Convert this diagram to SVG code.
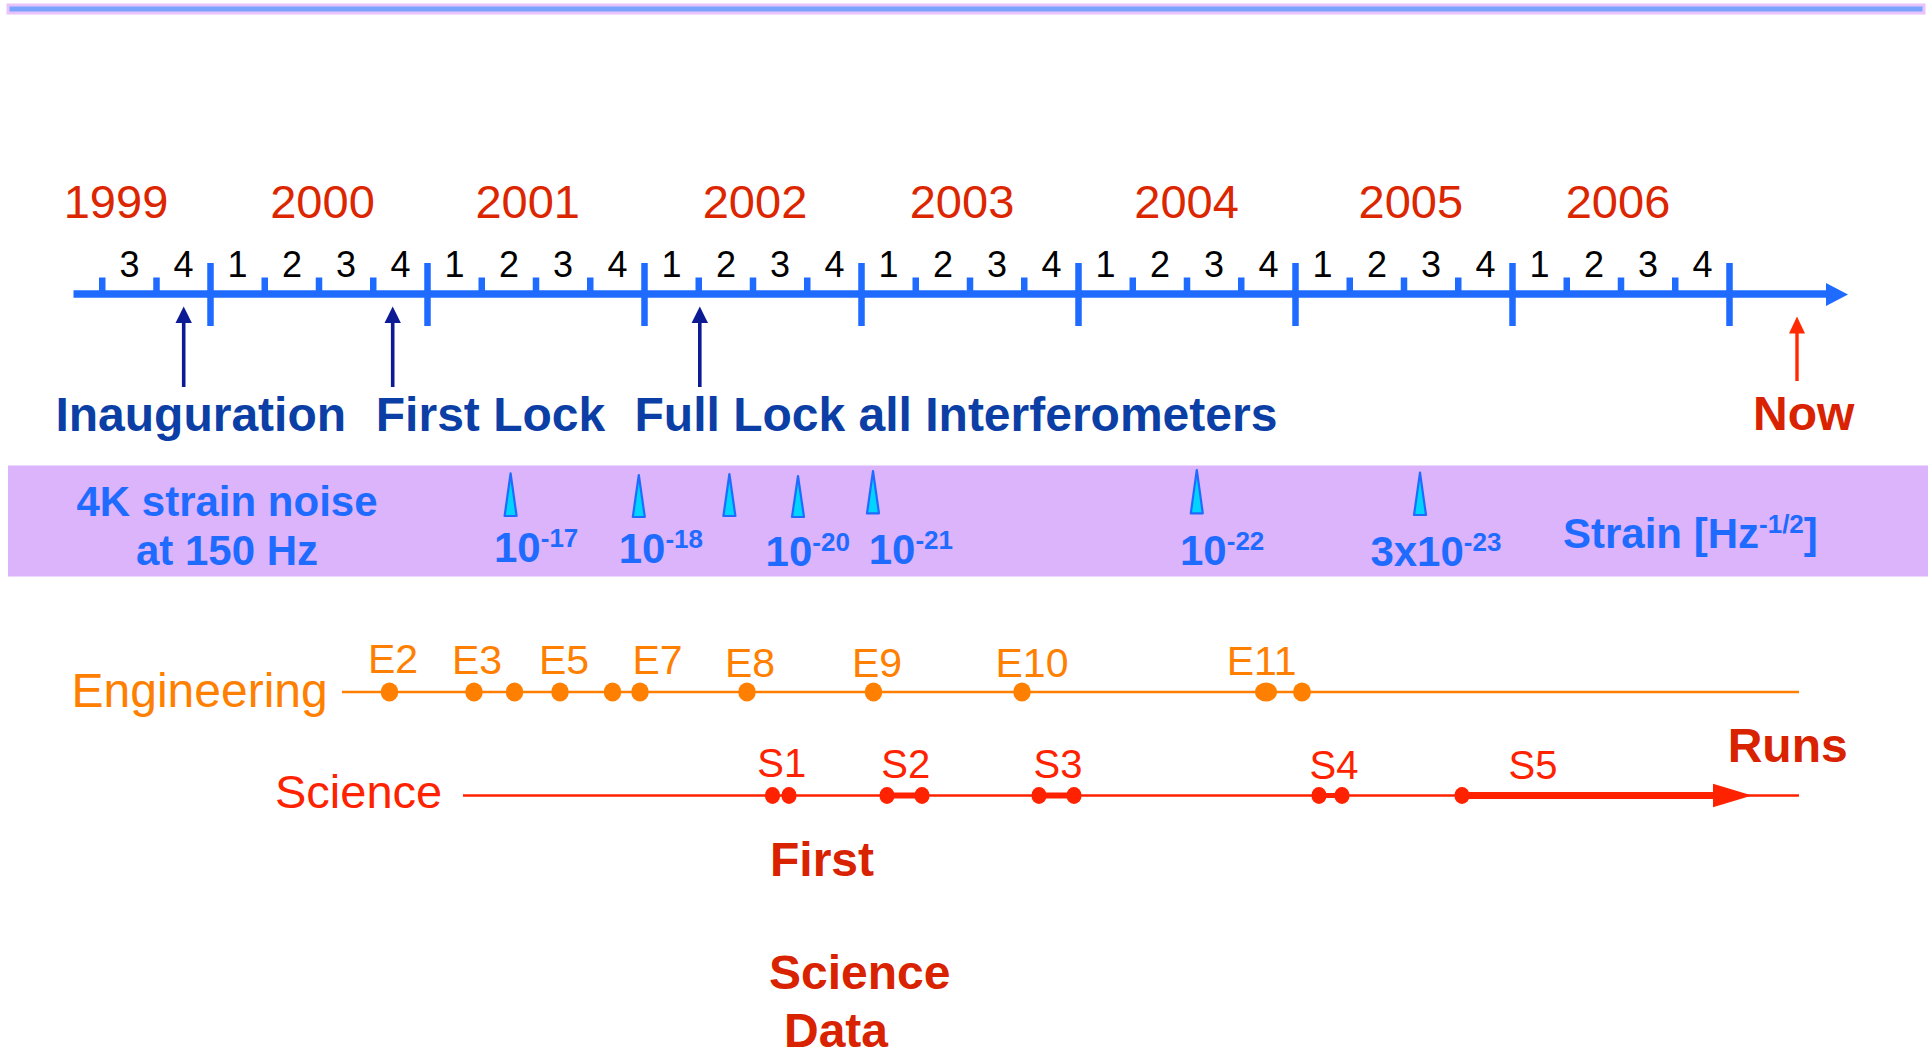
<svg xmlns="http://www.w3.org/2000/svg" width="1932" height="1054" viewBox="0 0 1932 1054">
<style>
text{font-family:"Liberation Sans",Arial,Helvetica,sans-serif}
.yr{font-size:47px;fill:#dc2600;text-anchor:middle}
.q{font-size:36px;fill:#000;text-anchor:middle}
.ev{font-size:48px;font-weight:bold;fill:#0b3fa6}
.st{font-size:42px;font-weight:bold;fill:#1f6bff}
.sup{font-size:26px}
.eng{fill:#ff8000}
.sci{fill:#ff2200}
.el{font-size:41px;text-anchor:middle}
.sl{font-size:40px;text-anchor:middle}
.red{font-size:48px;font-weight:bold;fill:#d82200}
.spike{fill:#00d4ff;stroke:#1f6bff;stroke-width:2.2;stroke-linejoin:round}
</style>
<g id="top-bar"><rect x="8" y="5" width="1916" height="8" fill="#7aa3ff" stroke="#e8c2fa" stroke-width="3"/></g>

<g id="years">
<text class="yr" x="116" y="218">1999</text>
<text class="yr" x="322.5" y="218">2000</text>
<text class="yr" x="527.7" y="218">2001</text>
<text class="yr" x="755" y="218">2002</text>
<text class="yr" x="962" y="218">2003</text>
<text class="yr" x="1186.6" y="218">2004</text>
<text class="yr" x="1410.8" y="218">2005</text>
<text class="yr" x="1618" y="218">2006</text>
</g>

<g id="quarters">
<text class="q" x="129.4" y="277">3</text><text class="q" x="183.5" y="277">4</text>
<text class="q" x="237.6" y="277">1</text><text class="q" x="291.9" y="277">2</text><text class="q" x="346.1" y="277">3</text><text class="q" x="400.4" y="277">4</text>
<text class="q" x="454.6" y="277">1</text><text class="q" x="508.9" y="277">2</text><text class="q" x="563.1" y="277">3</text><text class="q" x="617.4" y="277">4</text>
<text class="q" x="671.6" y="277">1</text><text class="q" x="725.9" y="277">2</text><text class="q" x="780.1" y="277">3</text><text class="q" x="834.4" y="277">4</text>
<text class="q" x="888.6" y="277">1</text><text class="q" x="942.9" y="277">2</text><text class="q" x="997.1" y="277">3</text><text class="q" x="1051.4" y="277">4</text>
<text class="q" x="1105.6" y="277">1</text><text class="q" x="1159.9" y="277">2</text><text class="q" x="1214.1" y="277">3</text><text class="q" x="1268.4" y="277">4</text>
<text class="q" x="1322.6" y="277">1</text><text class="q" x="1376.9" y="277">2</text><text class="q" x="1431.1" y="277">3</text><text class="q" x="1485.4" y="277">4</text>
<text class="q" x="1539.6" y="277">1</text><text class="q" x="1593.9" y="277">2</text><text class="q" x="1648.1" y="277">3</text><text class="q" x="1702.4" y="277">4</text>
</g>

<g id="timeline-axis">
<line x1="73.5" y1="294" x2="1828" y2="294" stroke="#1f6bff" stroke-width="7.5"/>
<polygon points="1826,283 1848,294.5 1826,306" fill="#1f6bff"/>
<path d="M102.25 277.5V294M156.5 277.5V294M264.75 277.5V294M319 277.5V294M373.25 277.5V294M481.75 277.5V294M536 277.5V294M590.25 277.5V294M698.75 277.5V294M753 277.5V294M807.25 277.5V294M915.75 277.5V294M970 277.5V294M1024.25 277.5V294M1132.75 277.5V294M1187 277.5V294M1241.25 277.5V294M1349.75 277.5V294M1404 277.5V294M1458.25 277.5V294M1566.75 277.5V294M1621 277.5V294M1675.25 277.5V294" stroke="#1f6bff" stroke-width="6.5" fill="none"/>
<path d="M210.5 263V326M427.5 263V326M644.5 263V326M861.5 263V326M1078.5 263V326M1295.5 263V326M1512.5 263V326M1729.5 263V326" stroke="#1f6bff" stroke-width="6.5" fill="none"/>
</g>

<g id="connectors">
<g fill="#0c1a94" stroke="#0c1a94">
<line x1="183.7" y1="387" x2="183.7" y2="320" stroke-width="3.6"/>
<polygon points="183.7,306.5 175.5,323 191.9,323" stroke="none"/>
<line x1="392.7" y1="387" x2="392.7" y2="320" stroke-width="3.6"/>
<polygon points="392.7,306.5 384.5,323 400.9,323" stroke="none"/>
<line x1="699.8" y1="387" x2="699.8" y2="320" stroke-width="3.6"/>
<polygon points="699.8,306.5 691.6,323 708,323" stroke="none"/>
</g>
<g fill="#ff2a00" stroke="#ff2a00">
<line x1="1797" y1="381" x2="1797" y2="331" stroke-width="3.4"/>
<polygon points="1797,316.5 1789,333.5 1805,333.5" stroke="none"/>
</g>
</g>

<g id="events">
<text class="ev" x="55.4" y="431">Inauguration</text>
<text class="ev" x="375.8" y="431">First Lock</text>
<text class="ev" x="634.5" y="431">Full Lock all Interferometers</text>
<text class="red" x="1753" y="430" fill="#dd2200">Now</text>
</g>

<g id="strain-band">
<rect x="8" y="465.5" width="1920" height="111" fill="#dcb4fc"/>
<text class="st" x="227" y="516" text-anchor="middle">4K strain noise</text>
<text class="st" x="227" y="565" text-anchor="middle">at 150 Hz</text>
<polygon class="spike" points="510.6,473.3 504.6,516 516.6,516"/>
<polygon class="spike" points="638.8,475 632.8,517 644.8,517"/>
<polygon class="spike" points="729.4,474 723.4,516 735.4,516"/>
<polygon class="spike" points="798,476 792,517 804,517"/>
<polygon class="spike" points="873,471 867,513.3 879,513.3"/>
<polygon class="spike" points="1196.8,470 1190.8,513.3 1202.8,513.3"/>
<polygon class="spike" points="1420,472.7 1414,515 1426,515"/>
<text class="st" x="494" y="562">10<tspan class="sup" dy="-15">-17</tspan></text>
<text class="st" x="618.7" y="563">10<tspan class="sup" dy="-15">-18</tspan></text>
<text class="st" x="765.6" y="566">10<tspan class="sup" dy="-15">-20</tspan></text>
<text class="st" x="868.7" y="564">10<tspan class="sup" dy="-15">-21</tspan></text>
<text class="st" x="1180" y="565">10<tspan class="sup" dy="-15">-22</tspan></text>
<text class="st" x="1370.4" y="566">3x10<tspan class="sup" dy="-15">-23</tspan></text>
<text class="st" x="1563" y="548">Strain [Hz<tspan class="sup" dy="-15">-1/2</tspan><tspan dy="15">]</tspan></text>
</g>

<g id="engineering-runs" class="eng">
<text x="71.5" y="707" font-size="48">Engineering</text>
<line x1="342" y1="692" x2="1799" y2="692" stroke="#ff8000" stroke-width="2.7"/>
<ellipse cx="389.5" cy="692" rx="8.8" ry="9.4"/>
<ellipse cx="474" cy="692" rx="8.8" ry="9.4"/>
<ellipse cx="514.5" cy="692" rx="8.8" ry="9.4"/>
<ellipse cx="560" cy="692" rx="8.8" ry="9.4"/>
<ellipse cx="612.5" cy="692" rx="8.8" ry="9.4"/>
<ellipse cx="640" cy="692" rx="8.8" ry="9.4"/>
<ellipse cx="747" cy="692" rx="8.8" ry="9.4"/>
<ellipse cx="873.5" cy="692" rx="8.8" ry="9.4"/>
<ellipse cx="1022" cy="692" rx="8.8" ry="9.4"/>
<ellipse cx="1266" cy="692" rx="11" ry="9.6"/>
<ellipse cx="1302" cy="692" rx="9" ry="9.6"/>
<text class="el" x="393" y="673">E2</text>
<text class="el" x="477" y="674">E3</text>
<text class="el" x="564" y="674">E5</text>
<text class="el" x="657.5" y="674">E7</text>
<text class="el" x="750" y="677">E8</text>
<text class="el" x="877" y="677">E9</text>
<text class="el" x="1032" y="677">E10</text>
<text class="el" x="1261.7" y="675">E11</text>
</g>

<g id="science-runs" class="sci">
<text x="275" y="808" font-size="47">Science</text>
<line x1="463" y1="795.5" x2="1799" y2="795.5" stroke="#ff2200" stroke-width="2.7"/>
<ellipse cx="772.5" cy="795.5" rx="7.6" ry="8.4"/>
<ellipse cx="789" cy="795.5" rx="7.6" ry="8.4"/>
<line x1="887" y1="795.5" x2="922" y2="795.5" stroke="#ff2200" stroke-width="6"/>
<ellipse cx="887" cy="795.5" rx="7.6" ry="8.4"/>
<ellipse cx="922" cy="795.5" rx="7.6" ry="8.4"/>
<line x1="1039" y1="795.5" x2="1074" y2="795.5" stroke="#ff2200" stroke-width="6"/>
<ellipse cx="1039" cy="795.5" rx="7.6" ry="8.4"/>
<ellipse cx="1074" cy="795.5" rx="7.6" ry="8.4"/>
<line x1="1319" y1="795.5" x2="1342" y2="795.5" stroke="#ff2200" stroke-width="5"/>
<ellipse cx="1319" cy="795.5" rx="7.6" ry="8.4"/>
<ellipse cx="1342" cy="795.5" rx="7.6" ry="8.4"/>
<line x1="1462" y1="795.5" x2="1716" y2="795.5" stroke="#ff2200" stroke-width="7"/>
<polygon points="1713,783.8 1752,795.5 1713,807.3"/>
<ellipse cx="1462" cy="795.5" rx="7.6" ry="8.4"/>
<text class="sl" x="781.8" y="777">S1</text>
<text class="sl" x="905.8" y="778">S2</text>
<text class="sl" x="1058" y="778">S3</text>
<text class="sl" x="1334" y="779">S4</text>
<text class="sl" x="1533" y="779">S5</text>
</g>

<g id="annotations">
<text class="red" x="1727.7" y="761.7" font-size="46">Runs</text>
<text class="red" x="770" y="876">First</text>
<text class="red" x="769" y="989">Science</text>
<text class="red" x="784" y="1047">Data</text>
</g>
</svg>
